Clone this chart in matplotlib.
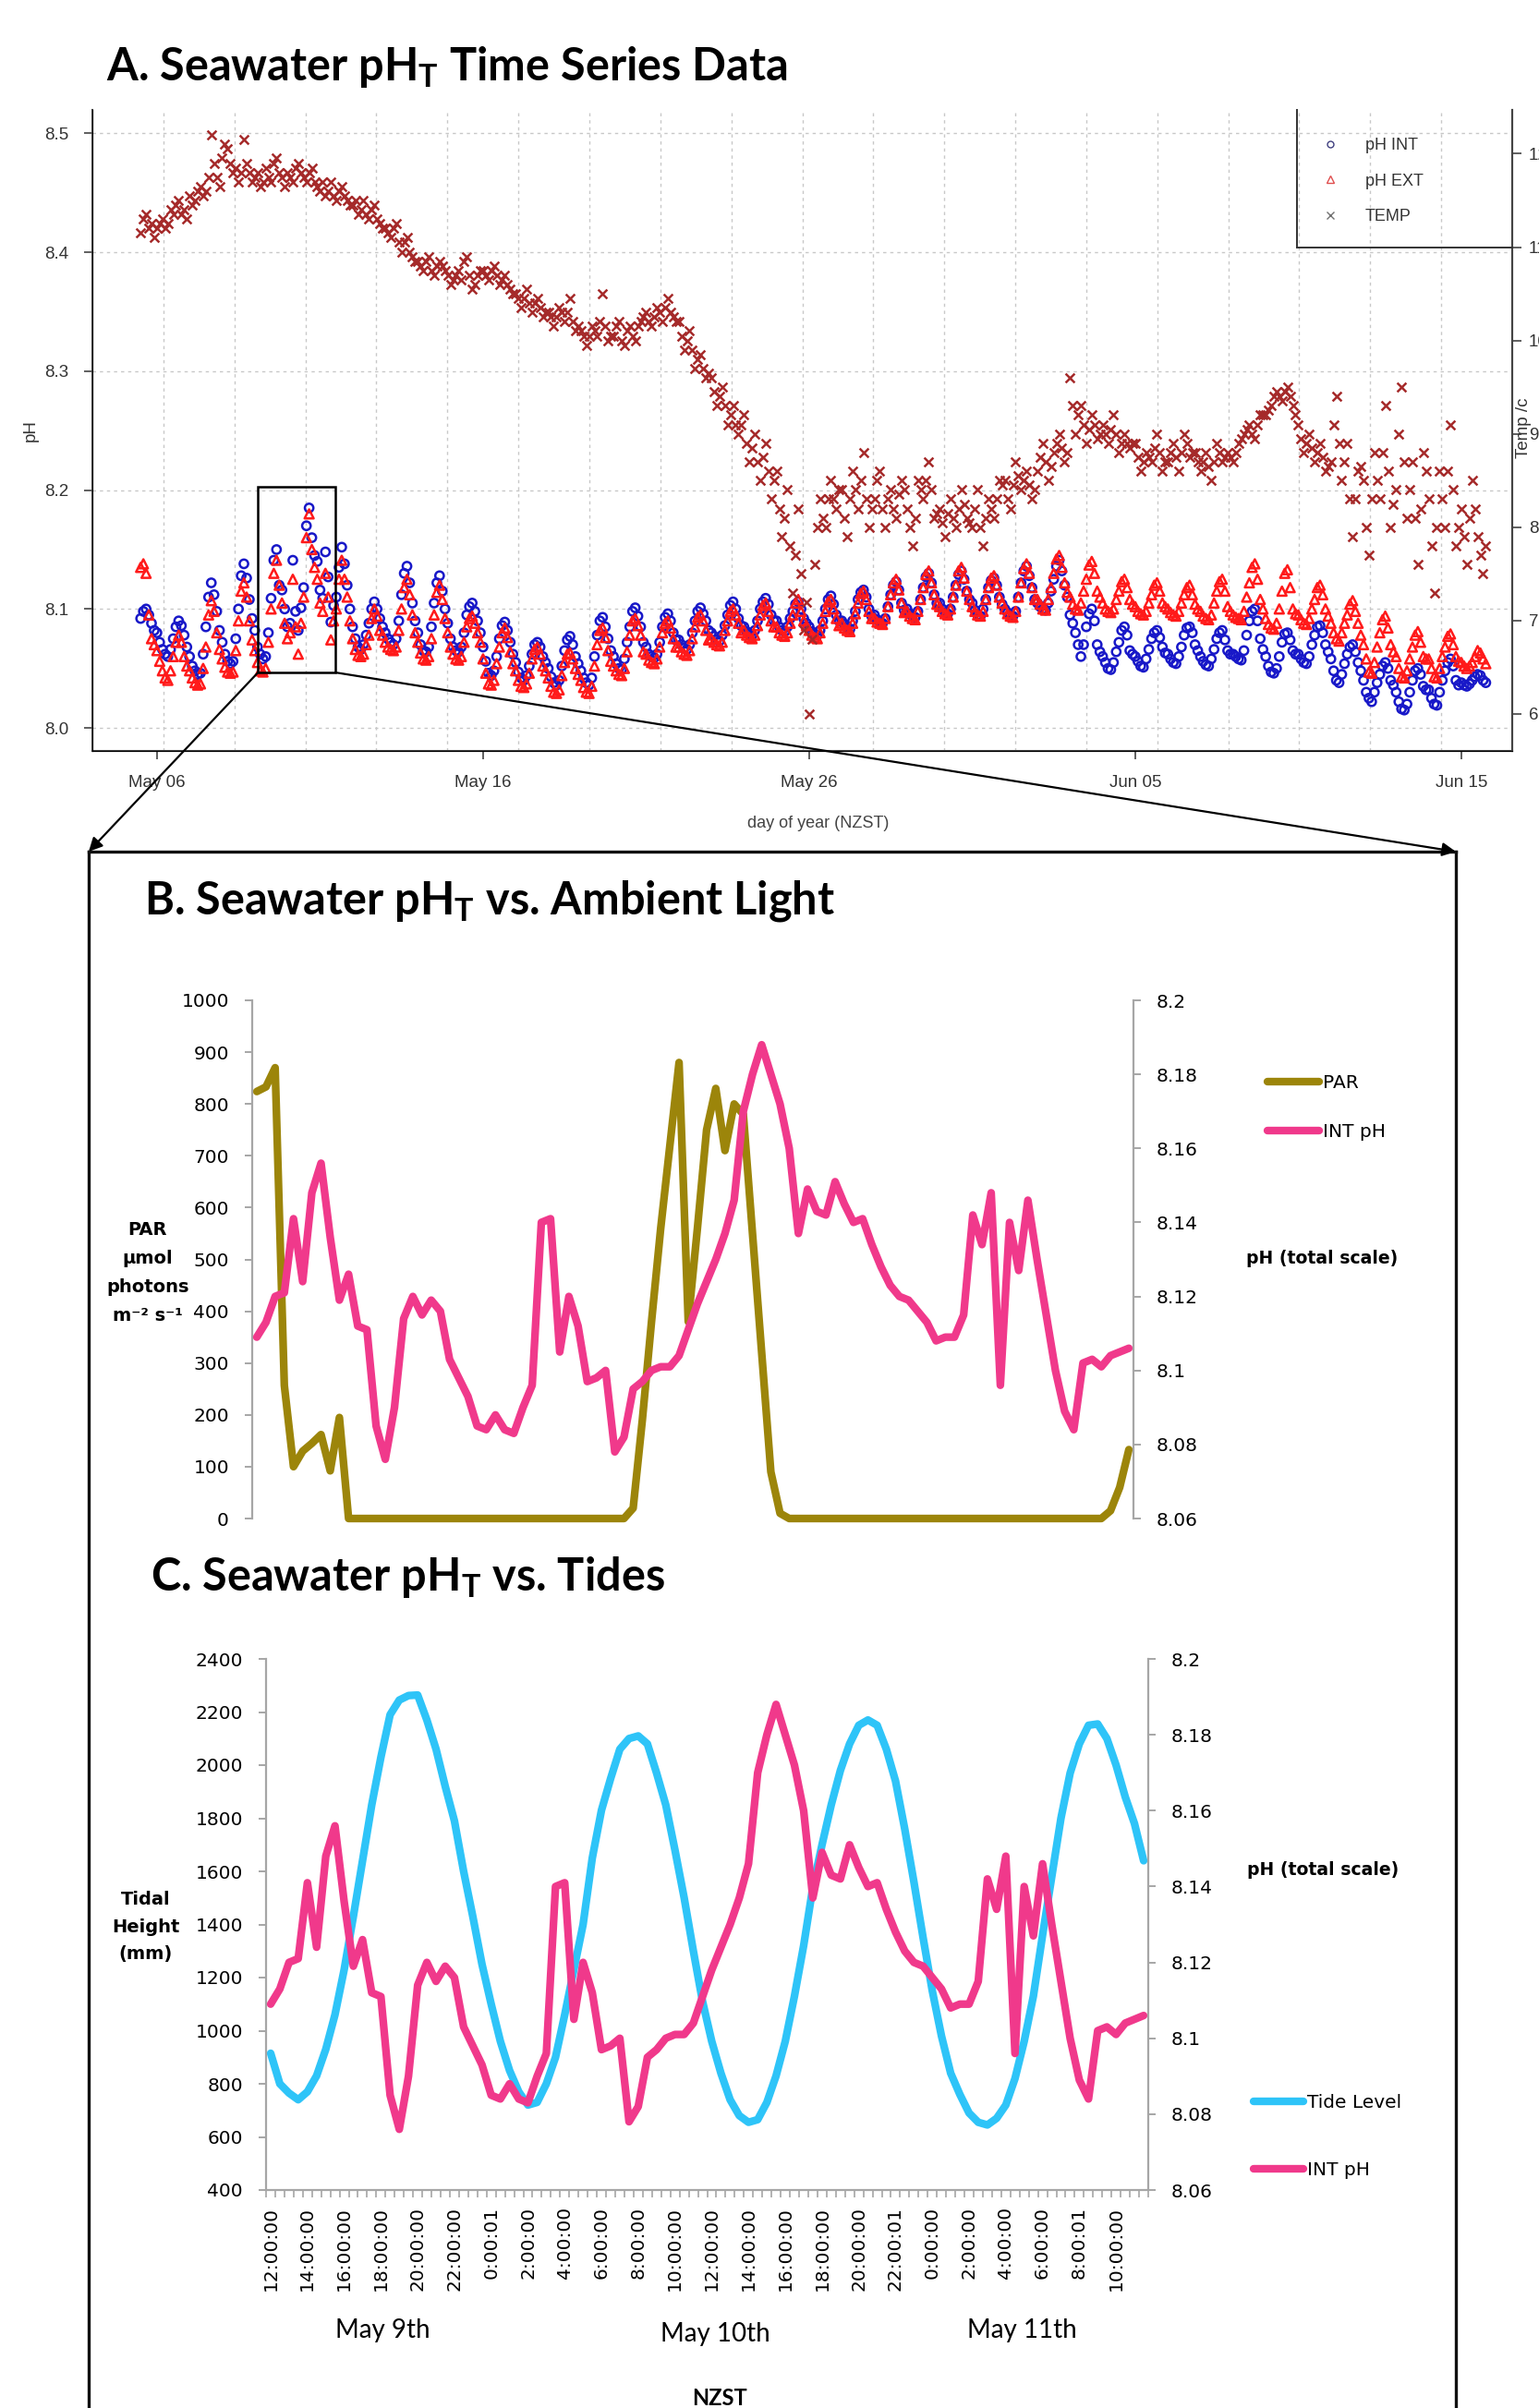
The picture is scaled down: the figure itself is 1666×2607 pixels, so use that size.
import numpy as np
import matplotlib
matplotlib.use("Agg")
import matplotlib.pyplot as plt
from matplotlib.patches import Rectangle, ConnectionPatch
from matplotlib.lines import Line2D
from matplotlib.ticker import FuncFormatter

plt.rcParams['mathtext.fontset'] = 'custom'
plt.rcParams['mathtext.rm'] = 'Lato'
plt.rcParams['mathtext.bf'] = 'Lato:bold'
plt.rcParams['mathtext.it'] = 'Lato:italic'

NARROW = ['Liberation Sans Narrow', 'Liberation Sans', 'DejaVu Sans']

# ---------------- Panel A data (2-hourly, first sample May 05 12:00 NZST) ----------------
a_xtick_days = [0, 10, 20, 30, 40]
a_xtick_labels = ["May 06", "May 16", "May 26", "Jun 05", "Jun 15"]

ph_int = [
    8.092, 8.098, 8.100, 8.095, 8.088, 8.082,
    8.080, 8.072, 8.066, 8.062, 8.060, 8.066, 8.075, 8.085, 8.090, 8.086, 8.078, 8.068,
    8.060, 8.052, 8.048, 8.045, 8.046, 8.062, 8.085, 8.110, 8.122, 8.112, 8.098, 8.082,
    8.072, 8.062, 8.056, 8.054, 8.056, 8.075, 8.100, 8.128, 8.138, 8.126, 8.108, 8.092,
    8.082, 8.068, 8.062, 8.058, 8.060, 8.080, 8.109, 8.141, 8.150, 8.120, 8.116, 8.100,
    8.085, 8.088, 8.141, 8.098, 8.082, 8.101, 8.118, 8.170, 8.185, 8.160, 8.145, 8.140,
    8.116, 8.109, 8.148, 8.127, 8.089, 8.103, 8.110, 8.135, 8.152, 8.138, 8.120, 8.100,
    8.085, 8.075, 8.068, 8.066, 8.070, 8.078, 8.088, 8.100, 8.106, 8.100, 8.092, 8.085,
    8.080, 8.075, 8.072, 8.070, 8.075, 8.090, 8.112, 8.130, 8.136, 8.122, 8.105, 8.090,
    8.080, 8.070, 8.065, 8.064, 8.068, 8.085, 8.105, 8.122, 8.128, 8.115, 8.100, 8.088,
    8.075, 8.068, 8.065, 8.064, 8.068, 8.080, 8.095, 8.102, 8.105, 8.098, 8.090, 8.080,
    8.068, 8.056, 8.046, 8.044, 8.048, 8.060, 8.075, 8.086, 8.089, 8.082, 8.072, 8.062,
    8.055, 8.047, 8.042, 8.040, 8.044, 8.052, 8.062, 8.070, 8.072, 8.068, 8.060, 8.055,
    8.050, 8.043, 8.038, 8.036, 8.040, 8.052, 8.065, 8.074, 8.077, 8.070, 8.060, 8.054,
    8.048, 8.042, 8.038, 8.036, 8.042, 8.060, 8.078, 8.090, 8.093, 8.085, 8.075, 8.065,
    8.060, 8.054, 8.050, 8.049, 8.058, 8.072, 8.085, 8.098, 8.101, 8.094, 8.085, 8.072,
    8.068, 8.062, 8.060, 8.059, 8.062, 8.072, 8.085, 8.093, 8.096, 8.090, 8.080, 8.074,
    8.074, 8.070, 8.067, 8.066, 8.070, 8.080, 8.090, 8.098, 8.101, 8.096, 8.090, 8.082,
    8.080, 8.077, 8.074, 8.073, 8.078, 8.086, 8.095, 8.103, 8.106, 8.100, 8.092, 8.086,
    8.085, 8.081, 8.079, 8.078, 8.082, 8.090, 8.100, 8.106, 8.109, 8.104, 8.095, 8.090,
    8.090, 8.085, 8.082, 8.081, 8.085, 8.092, 8.098, 8.104, 8.106, 8.100, 8.092, 8.088,
    8.085, 8.081, 8.079, 8.078, 8.082, 8.090, 8.100, 8.108, 8.111, 8.104, 8.095, 8.090,
    8.090, 8.087, 8.084, 8.083, 8.090, 8.098, 8.108, 8.114, 8.116, 8.110, 8.100, 8.094,
    8.095, 8.091, 8.089, 8.088, 8.092, 8.102, 8.112, 8.120, 8.123, 8.116, 8.105, 8.099,
    8.100, 8.096, 8.094, 8.093, 8.098, 8.108, 8.118, 8.127, 8.130, 8.122, 8.112, 8.105,
    8.105, 8.100, 8.097, 8.096, 8.100, 8.110, 8.120, 8.129, 8.132, 8.125, 8.115, 8.108,
    8.105, 8.099, 8.095, 8.094, 8.100, 8.108, 8.118, 8.124, 8.126, 8.120, 8.110, 8.104,
    8.100, 8.097, 8.095, 8.094, 8.098, 8.110, 8.122, 8.132, 8.136, 8.128, 8.118, 8.108,
    8.105, 8.102, 8.100, 8.099, 8.105, 8.115, 8.125, 8.136, 8.141, 8.132, 8.120, 8.110,
    8.095, 8.088, 8.080, 8.070, 8.060, 8.070, 8.085, 8.096, 8.100, 8.090, 8.070, 8.064,
    8.060, 8.055, 8.050, 8.049, 8.055, 8.064, 8.072, 8.082, 8.085, 8.078, 8.065, 8.062,
    8.060, 8.056, 8.052, 8.051, 8.058, 8.066, 8.075, 8.080, 8.082, 8.076, 8.068, 8.063,
    8.062, 8.058, 8.055, 8.054, 8.060, 8.068, 8.078, 8.084, 8.085, 8.080, 8.070, 8.065,
    8.060, 8.056, 8.053, 8.052, 8.058, 8.066, 8.075, 8.080, 8.082, 8.074, 8.065, 8.062,
    8.062, 8.060, 8.058, 8.057, 8.065, 8.078, 8.090, 8.098, 8.100, 8.090, 8.075, 8.066,
    8.060, 8.052, 8.047, 8.046, 8.050, 8.060, 8.072, 8.079, 8.080, 8.074, 8.065, 8.062,
    8.062, 8.058, 8.055, 8.054, 8.060, 8.070, 8.078, 8.085, 8.086, 8.080, 8.070, 8.064,
    8.058, 8.048, 8.040, 8.038, 8.045, 8.054, 8.062, 8.068, 8.070, 8.064, 8.055, 8.048,
    8.040, 8.030, 8.025, 8.022, 8.030, 8.038, 8.045, 8.052, 8.055, 8.050, 8.040, 8.036,
    8.030, 8.022, 8.016, 8.015, 8.020, 8.030, 8.040, 8.048, 8.050, 8.045, 8.035, 8.032,
    8.032, 8.025, 8.020, 8.019, 8.030, 8.040, 8.048, 8.055, 8.058, 8.052, 8.040, 8.036,
    8.038, 8.036, 8.035, 8.037, 8.040, 8.043, 8.045, 8.044, 8.040, 8.038,
]

ph_ext = [
    8.135, 8.138, 8.130, 8.095, 8.075, 8.070,
    8.065, 8.056, 8.048, 8.042, 8.040, 8.048, 8.060, 8.072, 8.078, 8.072, 8.060, 8.052,
    8.048, 8.042, 8.038, 8.036, 8.037, 8.050, 8.068, 8.095, 8.107, 8.098, 8.080, 8.066,
    8.058, 8.051, 8.047, 8.046, 8.047, 8.065, 8.090, 8.115, 8.122, 8.110, 8.090, 8.074,
    8.065, 8.055, 8.048, 8.047, 8.050, 8.072, 8.100, 8.130, 8.141, 8.120, 8.105, 8.088,
    8.075, 8.080, 8.125, 8.085, 8.062, 8.088, 8.110, 8.160, 8.180, 8.150, 8.135, 8.125,
    8.105, 8.098, 8.130, 8.110, 8.074, 8.090, 8.100, 8.125, 8.141, 8.125, 8.110, 8.090,
    8.075, 8.066, 8.061, 8.060, 8.062, 8.070, 8.078, 8.092, 8.100, 8.094, 8.082, 8.078,
    8.072, 8.068, 8.066, 8.065, 8.068, 8.082, 8.100, 8.118, 8.125, 8.112, 8.095, 8.080,
    8.072, 8.063, 8.058, 8.057, 8.060, 8.075, 8.095, 8.114, 8.120, 8.108, 8.092, 8.080,
    8.068, 8.062, 8.058, 8.057, 8.060, 8.072, 8.085, 8.092, 8.094, 8.088, 8.080, 8.072,
    8.058, 8.046, 8.037, 8.036, 8.040, 8.054, 8.068, 8.080, 8.084, 8.076, 8.064, 8.054,
    8.048, 8.040, 8.035, 8.034, 8.037, 8.046, 8.058, 8.066, 8.068, 8.062, 8.052, 8.048,
    8.042, 8.035, 8.030, 8.029, 8.032, 8.044, 8.055, 8.062, 8.063, 8.058, 8.050, 8.045,
    8.040, 8.034, 8.030, 8.029, 8.035, 8.052, 8.070, 8.082, 8.084, 8.076, 8.065, 8.056,
    8.052, 8.048, 8.045, 8.044, 8.050, 8.064, 8.078, 8.090, 8.092, 8.086, 8.078, 8.064,
    8.062, 8.057, 8.055, 8.054, 8.058, 8.068, 8.080, 8.088, 8.090, 8.084, 8.075, 8.068,
    8.068, 8.064, 8.062, 8.061, 8.065, 8.075, 8.085, 8.093, 8.095, 8.090, 8.082, 8.074,
    8.075, 8.072, 8.070, 8.069, 8.072, 8.082, 8.090, 8.098, 8.100, 8.095, 8.088, 8.080,
    8.082, 8.078, 8.076, 8.075, 8.078, 8.086, 8.095, 8.103, 8.105, 8.098, 8.090, 8.085,
    8.085, 8.080, 8.078, 8.077, 8.080, 8.088, 8.095, 8.105, 8.108, 8.098, 8.090, 8.086,
    8.082, 8.078, 8.076, 8.075, 8.080, 8.088, 8.098, 8.106, 8.108, 8.100, 8.092, 8.086,
    8.088, 8.084, 8.082, 8.081, 8.088, 8.096, 8.105, 8.113, 8.115, 8.108, 8.098, 8.092,
    8.092, 8.089, 8.088, 8.087, 8.092, 8.102, 8.112, 8.122, 8.125, 8.116, 8.105, 8.097,
    8.098, 8.094, 8.092, 8.091, 8.098, 8.108, 8.118, 8.129, 8.132, 8.122, 8.112, 8.104,
    8.102, 8.098, 8.096, 8.095, 8.100, 8.110, 8.120, 8.132, 8.135, 8.126, 8.115, 8.108,
    8.102, 8.098, 8.095, 8.094, 8.098, 8.108, 8.118, 8.126, 8.128, 8.120, 8.110, 8.105,
    8.100, 8.096, 8.094, 8.093, 8.098, 8.110, 8.122, 8.134, 8.138, 8.130, 8.118, 8.108,
    8.108, 8.104, 8.100, 8.099, 8.108, 8.118, 8.130, 8.142, 8.145, 8.135, 8.122, 8.114,
    8.110, 8.104, 8.100, 8.099, 8.105, 8.115, 8.125, 8.137, 8.140, 8.130, 8.115, 8.110,
    8.105, 8.100, 8.098, 8.097, 8.100, 8.108, 8.115, 8.123, 8.125, 8.118, 8.108, 8.104,
    8.102, 8.098, 8.096, 8.095, 8.098, 8.105, 8.112, 8.120, 8.122, 8.115, 8.105, 8.102,
    8.100, 8.097, 8.095, 8.094, 8.098, 8.105, 8.112, 8.118, 8.120, 8.112, 8.104, 8.100,
    8.098, 8.094, 8.092, 8.091, 8.095, 8.105, 8.115, 8.123, 8.125, 8.115, 8.102, 8.098,
    8.095, 8.093, 8.092, 8.091, 8.098, 8.110, 8.122, 8.135, 8.138, 8.125, 8.108, 8.100,
    8.092, 8.087, 8.084, 8.083, 8.088, 8.100, 8.115, 8.130, 8.133, 8.118, 8.100, 8.096,
    8.095, 8.091, 8.088, 8.087, 8.092, 8.100, 8.108, 8.118, 8.120, 8.112, 8.100, 8.094,
    8.088, 8.080, 8.075, 8.073, 8.080, 8.088, 8.095, 8.104, 8.107, 8.098, 8.088, 8.078,
    8.070, 8.058, 8.047, 8.046, 8.055, 8.068, 8.080, 8.091, 8.094, 8.084, 8.070, 8.064,
    8.060, 8.050, 8.043, 8.042, 8.048, 8.058, 8.068, 8.078, 8.081, 8.072, 8.060, 8.058,
    8.058, 8.050, 8.043, 8.042, 8.050, 8.060, 8.068, 8.077, 8.079, 8.070, 8.060, 8.056,
    8.055, 8.052, 8.050, 8.052, 8.055, 8.060, 8.065, 8.063, 8.058, 8.054,
]

temp_c = [
    11.15, 11.3, 11.35, 11.2, 11.25, 11.1,
    11.2, 11.25, 11.3, 11.2, 11.25, 11.4, 11.35, 11.45, 11.5, 11.35, 11.4, 11.3,
    11.55, 11.45, 11.5, 11.6, 11.65, 11.55, 11.6, 11.75, 12.2, 11.9, 11.75, 11.65,
    11.95, 12.1, 12.05, 11.9, 11.8, 11.85, 11.7, 11.8, 12.15, 11.9, 11.8, 11.7,
    11.75, 11.8, 11.65, 11.7, 11.85, 11.75, 11.7, 11.9, 11.95, 11.8, 11.75, 11.65,
    11.8, 11.75, 11.7, 11.85, 11.9, 11.8, 11.75, 11.7, 11.8, 11.85, 11.7, 11.65,
    11.6, 11.7, 11.55, 11.6, 11.7, 11.55, 11.5, 11.6, 11.65, 11.55, 11.5, 11.45,
    11.45, 11.5, 11.35, 11.4, 11.5, 11.35, 11.3, 11.4, 11.45, 11.3, 11.25, 11.2,
    11.2, 11.15, 11.1, 11.2, 11.25, 11.05, 10.95, 11.05, 11.1, 10.95, 10.9, 10.85,
    10.85, 10.8, 10.75, 10.85, 10.9, 10.75, 10.7, 10.8, 10.85, 10.8, 10.75, 10.7,
    10.6, 10.65, 10.7, 10.75, 10.65, 10.85, 10.9, 10.7, 10.55, 10.6, 10.7, 10.75,
    10.75, 10.7, 10.65, 10.75, 10.8, 10.7, 10.6, 10.65, 10.7, 10.6, 10.55, 10.5,
    10.5, 10.45, 10.35, 10.45, 10.55, 10.4, 10.3, 10.4, 10.45, 10.35, 10.25, 10.3,
    10.3, 10.25, 10.15, 10.25, 10.35, 10.3, 10.2, 10.3, 10.45, 10.2, 10.1, 10.15,
    10.1, 10.05, 9.95, 10.05, 10.15, 10.1, 10.05, 10.2, 10.5, 10.15, 10.0, 10.05,
    10.05, 10.15, 10.2, 10.0, 9.95, 10.1, 10.15, 10.05, 10.0, 10.15, 10.2, 10.25,
    10.3, 10.2, 10.15, 10.25, 10.35, 10.3, 10.2, 10.35, 10.45, 10.3, 10.25, 10.2,
    10.2, 10.05, 9.9, 10.0, 10.1, 9.9, 9.7, 9.8, 9.85, 9.7, 9.6, 9.65,
    9.6, 9.45, 9.3, 9.4, 9.5, 9.3, 9.1, 9.2, 9.3, 9.1, 9.0, 9.1,
    9.2, 8.9, 8.7, 8.85, 9.0, 8.7, 8.5, 8.75, 8.9, 8.6, 8.3, 8.5,
    8.6, 8.2, 7.9, 8.1, 8.4, 7.8, 7.3, 7.7, 8.2, 7.5, 6.9, 7.2,
    6.0, 6.8, 7.6, 8.0, 8.3, 8.1, 8.0, 8.3, 8.5, 8.3, 8.2, 8.4,
    8.4, 8.1, 7.9, 8.3, 8.6, 8.4, 8.2, 8.5, 8.8, 8.3, 8.0, 8.2,
    8.3, 8.5, 8.6, 8.2, 8.0, 8.3, 8.4, 8.2, 8.1, 8.35, 8.5, 8.4,
    8.2, 8.0, 7.8, 8.1, 8.5, 8.4, 8.3, 8.5, 8.7, 8.4, 8.1, 8.15,
    8.2, 8.05, 7.9, 8.15, 8.3, 8.1, 8.0, 8.2, 8.4, 8.25, 8.1, 8.05,
    8.0, 8.2, 8.4, 8.0, 7.8, 8.1, 8.3, 8.2, 8.1, 8.3, 8.5, 8.45,
    8.5, 8.3, 8.2, 8.45, 8.7, 8.55, 8.4, 8.5, 8.6, 8.45, 8.3, 8.4,
    8.6, 8.75, 8.9, 8.7, 8.5, 8.65, 8.8, 8.9, 9.0, 8.85, 8.7, 8.8,
    9.6, 9.3, 9.0, 9.2, 9.3, 9.1, 8.9, 9.05, 9.2, 9.1, 8.95, 9.0,
    9.1, 9.0, 8.9, 9.05, 9.2, 9.0, 8.8, 8.9, 9.0, 8.9, 8.85, 8.9,
    8.9, 8.75, 8.6, 8.7, 8.8, 8.75, 8.7, 8.85, 9.0, 8.8, 8.6, 8.7,
    8.7, 8.8, 8.9, 8.75, 8.6, 8.8, 9.0, 8.9, 8.75, 8.8, 8.8, 8.7,
    8.6, 8.7, 8.8, 8.65, 8.5, 8.7, 8.9, 8.8, 8.7, 8.75, 8.8, 8.75,
    8.7, 8.8, 8.9, 8.95, 9.0, 9.05, 9.1, 9.0, 8.95, 9.1, 9.2, 9.2,
    9.2, 9.25, 9.3, 9.4, 9.45, 9.4, 9.35, 9.45, 9.5, 9.4, 9.3, 9.2,
    9.1, 8.95, 8.8, 8.9, 9.0, 8.85, 8.7, 8.8, 8.9, 8.75, 8.6, 8.65,
    8.7, 9.1, 9.4, 8.9, 8.5, 8.7, 8.9, 8.3, 7.9, 8.3, 8.6, 8.65,
    8.5, 8.0, 7.7, 8.3, 8.8, 8.5, 8.3, 8.8, 9.3, 8.6, 8.0, 8.25,
    8.4, 9.0, 9.5, 8.7, 8.1, 8.4, 8.7, 8.1, 7.6, 8.2, 8.8, 8.6,
    8.3, 7.8, 7.3, 8.0, 8.6, 8.3, 8.0, 8.6, 9.1, 8.4, 7.8, 8.0,
    8.2, 7.9, 7.6, 8.1, 8.5, 8.2, 7.9, 7.7, 7.5, 7.8,
]

# ---------------- Panels B & C data (30-min, May 9 12:00 -> May 11 11:30) ----------------
time_labels = ["12:00:00", "14:00:00", "16:00:00", "18:00:00", "20:00:00", "22:00:00",
               "0:00:01", "2:00:00", "4:00:00", "6:00:00", "8:00:00", "10:00:00",
               "12:00:00", "14:00:00", "16:00:00", "18:00:00", "20:00:00", "22:00:01",
               "0:00:00", "2:00:00", "4:00:00", "6:00:00", "8:00:01", "10:00:00"]
day_labels = ["May 9th", "May 10th", "May 11th"]

par = [824, 833, 870, 257, 100, 130, 145, 162, 92, 195,
       0, 0, 0, 0, 0, 0, 0, 0, 0, 0,
       0, 0, 0, 0, 0, 0, 0, 0, 0, 0,
       0, 0, 0, 0, 0, 0, 0, 0, 0, 0,
       0, 20, 190, 380, 560, 720, 880, 380, 560, 750,
       830, 710, 800, 780, 550, 320, 90, 10, 0, 0,
       0, 0, 0, 0, 0, 0, 0, 0, 0, 0,
       0, 0, 0, 0, 0, 0, 0, 0, 0, 0,
       0, 0, 0, 0, 0, 0, 0, 0, 0, 0,
       0, 0, 0, 15, 60, 133]

int_ph = [8.109, 8.113, 8.120, 8.121, 8.141, 8.124, 8.148, 8.156, 8.136, 8.119,
          8.126, 8.112, 8.111, 8.085, 8.076, 8.090, 8.114, 8.120, 8.115, 8.119,
          8.116, 8.103, 8.098, 8.093, 8.085, 8.084, 8.088, 8.084, 8.083, 8.090,
          8.096, 8.140, 8.141, 8.105, 8.120, 8.112, 8.097, 8.098, 8.100, 8.078,
          8.082, 8.095, 8.097, 8.100, 8.101, 8.101, 8.104, 8.111, 8.118, 8.124,
          8.130, 8.137, 8.146, 8.170, 8.180, 8.188, 8.180, 8.172, 8.160, 8.137,
          8.149, 8.143, 8.142, 8.151, 8.145, 8.140, 8.141, 8.134, 8.128, 8.123,
          8.120, 8.119, 8.116, 8.113, 8.108, 8.109, 8.109, 8.115, 8.142, 8.134,
          8.148, 8.096, 8.140, 8.127, 8.146, 8.130, 8.115, 8.100, 8.089, 8.084,
          8.102, 8.103, 8.101, 8.104, 8.105, 8.106]

tide_mm = [915, 800, 765, 740, 770, 830, 930, 1060, 1230, 1430,
           1640, 1850, 2030, 2190, 2245, 2262, 2264, 2170, 2060, 1920,
           1790, 1600, 1430, 1250, 1100, 960, 850, 770, 720, 730,
           800, 900, 1060, 1230, 1400, 1650, 1830, 1950, 2060, 2100,
           2110, 2080, 1970, 1850, 1680, 1500, 1300, 1110, 960, 840,
           740, 680, 655, 665, 730, 830, 960, 1130, 1320, 1540,
           1700, 1850, 1980, 2080, 2150, 2170, 2150, 2060, 1940, 1760,
           1560, 1350, 1150, 980, 840, 760, 690, 655, 645, 670,
           720, 820, 960, 1130, 1360, 1580, 1800, 1970, 2080, 2150,
           2155, 2100, 2000, 1880, 1780, 1640]

# ---------------- figure ----------------
W, H = 1666, 2607
fig = plt.figure(figsize=(W / 100, H / 100), dpi=100)


def rect(l, t, r, b):
    return [l / W, 1 - b / H, (r - l) / W, (b - t) / H]


def fp(x, y):
    return (x / W, 1 - y / H)


# ======== Panel A ========
axA = fig.add_axes(rect(100, 119, 1637, 813))
tA_int = -0.5 + np.arange(len(ph_int)) / 12.0
tA_ext = -0.5 + np.arange(len(ph_ext)) / 12.0
tA_tmp = -0.5 + np.arange(len(temp_c)) / 12.0

XL = (-1.98, 41.56)
axA.set_xlim(*XL)
axA.set_ylim(7.9806, 8.5198)
axA.scatter(tA_int, ph_int, s=44, marker='o', facecolors='none', edgecolors='#1818c8', linewidths=1.8, zorder=3)
axA.scatter(tA_ext, ph_ext, s=50, marker='^', facecolors='none', edgecolors='#ff1a1a', linewidths=1.8, zorder=4)

axA.set_yticks([8.0, 8.1, 8.2, 8.3, 8.4, 8.5])
axA.yaxis.set_major_formatter(FuncFormatter(lambda v, p: f"{v:.1f}"))
axA.set_xticks(a_xtick_days, a_xtick_labels)
axA.set_xticks(np.linspace(XL[0], XL[1], 21)[1:-1], minor=True)
axA.grid(True, which='major', axis='y', linestyle=(0, (2.5, 3)), color='#c8c8c8', lw=1.0)
axA.grid(True, which='minor', axis='x', linestyle=(0, (2.5, 3)), color='#c8c8c8', lw=1.0)
axA.tick_params(axis='x', which='minor', length=0)
axA.tick_params(axis='both', which='major', direction='out', length=6.5, width=1.2, color='#444',
                labelsize=13.5, labelcolor='#333')
axA.tick_params(axis='y', pad=12)
axA.tick_params(axis='x', pad=12)
for lab in axA.get_xticklabels() + axA.get_yticklabels():
    lab.set_fontfamily(NARROW)
axA.spines['top'].set_visible(False)
for s in ['left', 'bottom', 'right']:
    axA.spines[s].set_color('#444')
    axA.spines[s].set_linewidth(1.5)

axT = axA.twinx()
axT.set_ylim(5.604, 12.469)
axT.scatter(tA_tmp, temp_c, s=50, marker='x', color='#a52a2a', linewidths=1.8, zorder=3)
axT.set_yticks([6, 7, 8, 9, 10, 11, 12])
axT.tick_params(axis='y', direction='out', length=7, width=1.2, color='#444', labelsize=13.5,
                labelcolor='#333', pad=6)
for lab in axT.get_yticklabels():
    lab.set_fontfamily(NARROW)
axT.spines['top'].set_visible(False)
axT.spines['right'].set_color('#444')
axT.spines['right'].set_linewidth(1.5)

# zoom box in panel A
axA.add_patch(Rectangle((3.1, 8.0466), 2.37, 0.1562, fill=False, ec='black', lw=1.8, zorder=10))

# legend box (left and bottom edges only; top/right are the plot frame)
LBX0, LBY0 = 0.8484, 0.7853
for xs, ys in [([LBX0, LBX0], [LBY0, 1.0]), ([LBX0, 1.0], [LBY0, LBY0])]:
    axT.add_artist(Line2D(xs, ys, transform=axT.transAxes, color='#333', lw=1.4, zorder=20,
                          clip_on=False))
hA = [Line2D([], [], ls='', marker='o', mfc='none', mec='#404080', ms=5, mew=1.0),
      Line2D([], [], ls='', marker='^', mfc='none', mec='#e05050', ms=6, mew=1.0),
      Line2D([], [], ls='', marker='x', color='#707070', ms=6, mew=1.0)]
legA = axT.legend(hA, ["pH INT", "pH EXT", "TEMP"], loc='upper left',
                  bbox_to_anchor=fp(1429, 149), bbox_transform=fig.transFigure,
                  frameon=False, borderpad=0, borderaxespad=0, handlelength=1.2,
                  handletextpad=1.5, labelspacing=1.2,
                  prop={'family': NARROW, 'size': 13})
for t in legA.get_texts():
    t.set_color('#333')

fig.text(*fp(33, 466), "pH", rotation=90, ha='center', va='center', fontsize=13.5,
         family=NARROW, color='#333')
fig.text(*fp(1650, 463), "Temp /c", rotation=90, ha='center', va='center', fontsize=13.5,
         family=NARROW, color='#333')
fig.text(*fp(886, 892), "day of year (NZST)", ha='center', va='center', fontsize=13,
         family=NARROW, color='#444')

# titles
fig.text(*fp(115, 87), r"A. Seawater pH$_{\mathbf{T}}$ Time Series Data", fontfamily='Lato',
         fontweight='bold', fontsize=35, ha='left', va='baseline')
fig.text(*fp(156, 989), r"B. Seawater pH$_{\mathbf{T}}$ vs. Ambient Light", fontfamily='Lato',
         fontweight='bold', fontsize=35, ha='left', va='baseline')
fig.text(*fp(163, 1722), r"C. Seawater pH$_{\mathbf{T}}$ vs. Tides", fontfamily='Lato',
         fontweight='bold', fontsize=35, ha='left', va='baseline')

# ======== big box and connectors ========
BOXL, BOXR, BOXT = 96, 1576, 922
for (x0, y0, x1, y1) in [(BOXL, BOXT, BOXR, BOXT), (BOXL, BOXT, BOXL, H + 10), (BOXR, BOXT, BOXR, H + 10)]:
    fig.add_artist(Line2D([x0 / W, x1 / W], [1 - y0 / H, 1 - y1 / H], color='#111', lw=2.4,
                          transform=fig.transFigure))
for xa, xb in [(3.1, BOXL), (5.47, BOXR)]:
    con = ConnectionPatch(xyA=(xa, 8.0466), coordsA=axA.transData,
                          xyB=fp(xb, BOXT), coordsB=fig.transFigure,
                          arrowstyle='-|>', mutation_scale=22, lw=1.6, color='black', zorder=30)
    fig.add_artist(con)

GRAY = '#a6a6a6'
PINK = '#f0398b'
OLIVE = '#9c850a'
BLUE = '#2ec4f8'


def excel_style(ax, ax2, bottom):
    ax.spines['top'].set_visible(False)
    ax.spines['right'].set_visible(False)
    ax.spines['left'].set_color(GRAY)
    ax.spines['left'].set_linewidth(1.6)
    ax2.spines['top'].set_visible(False)
    ax2.spines['left'].set_visible(False)
    ax2.spines['bottom'].set_visible(False)
    ax2.spines['right'].set_color(GRAY)
    ax2.spines['right'].set_linewidth(1.6)
    if bottom:
        ax.spines['bottom'].set_color(GRAY)
        ax.spines['bottom'].set_linewidth(1.6)
    else:
        ax.spines['bottom'].set_visible(False)
    for a in (ax, ax2):
        a.tick_params(axis='y', direction='out', length=6, width=1.4, color=GRAY, labelsize=14.5,
                      pad=12, labelcolor='black')
    ax2.yaxis.set_major_formatter(FuncFormatter(lambda v, p: f"{v:.2f}".rstrip('0')))
    ax2.set_ylim(8.06, 8.2)
    ax2.set_yticks([8.06, 8.08, 8.10, 8.12, 8.14, 8.16, 8.18, 8.20])


cat = np.arange(len(int_ph))
LW = 6.0

# ======== Panel B ========
axB = fig.add_axes(rect(273, 1083, 1227, 1644))
lp, = axB.plot(np.arange(len(par)), par, color=OLIVE, lw=LW, solid_joinstyle='round',
               solid_capstyle='round', clip_on=False, label='PAR')
axB.set_xlim(-0.5, 95.5)
axB.set_ylim(0, 1000)
axB.set_yticks(range(0, 1001, 100))
axB.set_xticks([])
axB2 = axB.twinx()
li, = axB2.plot(cat, int_ph, color=PINK, lw=LW, solid_joinstyle='round', solid_capstyle='round',
                clip_on=False, label='INT pH')
excel_style(axB, axB2, bottom=False)
axB.patch.set_visible(False)
legB = axB2.legend([lp, li], ['PAR', 'INT pH'], loc='center left', bbox_to_anchor=fp(1372, 1199),
                   bbox_transform=fig.transFigure, frameon=False, borderpad=0, borderaxespad=0,
                   handlelength=2.8, handletextpad=0.2, labelspacing=1.65, fontsize=14.5)
fig.text(*fp(160, 1378), "PAR\nµmol\nphotons\nm⁻² s⁻¹", ha='center', va='center', fontsize=14,
         fontweight='bold', linespacing=1.8)
fig.text(*fp(1431, 1362), "pH (total scale)", ha='center', va='center', fontsize=13.6,
         fontweight='bold')

# ======== Panel C ========
axC = fig.add_axes(rect(288, 1796, 1243, 2371))
lt, = axC.plot(np.arange(len(tide_mm)), tide_mm, color=BLUE, lw=LW, solid_joinstyle='round',
               solid_capstyle='round', label='Tide Level')
axC.set_xlim(-0.5, 95.5)
axC.set_ylim(400, 2400)
axC.set_yticks(range(400, 2401, 200))
axC2 = axC.twinx()
lc, = axC2.plot(cat, int_ph, color=PINK, lw=LW, solid_joinstyle='round', solid_capstyle='round',
                label='INT pH')
excel_style(axC, axC2, bottom=True)
axC.set_xticks(np.arange(len(tide_mm) + 1) - 0.5)
axC.set_xticklabels([])
axC.set_xticks(np.arange(0, len(tide_mm), 4), time_labels, minor=True)
axC.tick_params(axis='x', which='major', direction='out', length=6, width=1.2, color=GRAY)
axC.tick_params(axis='x', which='minor', length=0, pad=13, labelsize=14.5, labelrotation=90)
legC = axC2.legend([lt, lc], ['Tide Level', 'INT pH'], loc='center left', bbox_to_anchor=fp(1357, 2313),
                   bbox_transform=fig.transFigure, frameon=False, borderpad=0, borderaxespad=0,
                   handlelength=2.7, handletextpad=0.2, labelspacing=2.65, fontsize=14.5)
fig.text(*fp(158, 2086), "Tidal\nHeight\n(mm)", ha='center', va='center', fontsize=14,
         fontweight='bold', linespacing=1.7)
fig.text(*fp(1432, 2025), "pH (total scale)", ha='center', va='center', fontsize=13.6,
         fontweight='bold')
for (xx, yy), lab in zip([(414, 2523), (774, 2527), (1106, 2523)], day_labels):
    fig.text(*fp(xx, yy), lab, ha='center', va='center', fontsize=20, fontfamily='Lato')
fig.text(*fp(779, 2597), "NZST", ha='center', va='center', fontsize=17, fontfamily='Lato',
         fontweight='bold')

fig.savefig("out.png", dpi=100)
